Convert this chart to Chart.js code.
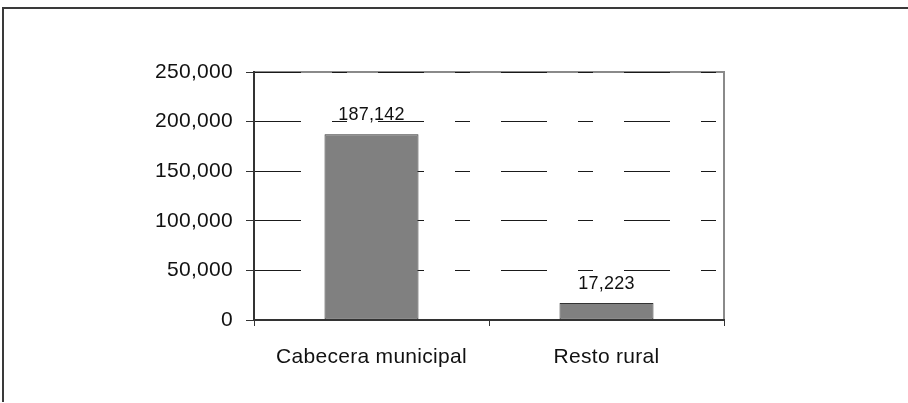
<!DOCTYPE html>
<html>
<head>
<meta charset="utf-8">
<script src="https://cdn.jsdelivr.net/npm/chart.js@4.4.1/dist/chart.umd.min.js"></script>
<style>
  html, body { margin: 0; padding: 0; background: #fff; }
  #wrap { width: 908px; height: 403px; }
</style>
</head>
<body>
<div id="wrap"><canvas id="chart" width="908" height="403"></canvas></div>
<script>
// ── Data ─────────────────────────────────────────
const categories = ['Cabecera municipal', 'Resto rural'];
const population = [187142, 17223];
const yTicks = [0, 50000, 100000, 150000, 200000, 250000];

const fmt = v => Number(v).toLocaleString('en-US');

// ── Frame + letter spacing ───────────────────────
const framePlugin = {
  id: 'frame',
  beforeLayout(chart) { chart.ctx.letterSpacing = '0.3px'; },
  beforeDraw(chart) {
    const ctx = chart.ctx;
    const a = chart.chartArea;
    ctx.letterSpacing = '0.3px';
    ctx.save();
    // outer box (only top + left visible)
    ctx.strokeStyle = '#3a3a3a';
    ctx.lineWidth = 2;
    ctx.beginPath();
    ctx.moveTo(3, 402);
    ctx.lineTo(3, 8);
    ctx.lineTo(908, 8);
    ctx.stroke();
    // plot frame top + right, grey
    ctx.strokeStyle = '#8a8a8a';
    ctx.lineWidth = 2;
    ctx.beginPath();
    ctx.moveTo(a.left, a.top);
    ctx.lineTo(a.right, a.top);
    ctx.lineTo(a.right, a.bottom);
    ctx.stroke();
    ctx.restore();
  }
};

// ── Value labels above bars ──────────────────────
const labelPlugin = {
  id: 'valueLabels',
  afterDatasetsDraw(chart) {
    const ctx = chart.ctx;
    const meta = chart.getDatasetMeta(0);
    ctx.save();
    ctx.letterSpacing = '0.2px';
    ctx.font = '18px "Liberation Sans", Arial, sans-serif';
    ctx.fillStyle = '#111';
    ctx.textAlign = 'center';
    ctx.textBaseline = 'alphabetic';
    meta.data.forEach((bar, i) => {
      ctx.fillText(fmt(population[i]), bar.x, bar.y - 14);
    });
    ctx.restore();
  }
};

new Chart(document.getElementById('chart'), {
  type: 'bar',
  data: {
    labels: categories,
    datasets: [{
      data: population,
      backgroundColor: '#808080',
      borderColor: '#333',
      borderWidth: 1,
      borderSkipped: false,
      barPercentage: 0.4,
      categoryPercentage: 1
    }]
  },
  options: {
    responsive: false,
    animation: false,
    devicePixelRatio: 1,
    layout: { padding: { left: 0, right: 184, top: 72, bottom: 0 } },
    plugins: { legend: { display: false }, tooltip: { enabled: false } },
    scales: {
      x: {
        afterFit: s => { s.height = 83; },
        grid: {
          offset: true,
          drawOnChartArea: false,
          drawTicks: true,
          tickLength: 6,
          tickColor: '#333',
          tickWidth: 1
        },
        border: { color: '#333', width: 2 },
        ticks: {
          padding: 19,
          color: '#111',
          font: { family: '"Liberation Sans", Arial, sans-serif', size: 21 }
        }
      },
      y: {
        min: 0,
        max: 250000,
        afterFit: s => { s.width = 254; },
        afterBuildTicks: s => { s.ticks = yTicks.map(v => ({ value: v })); },
        grid: {
          color: '#1a1a1a',
          lineWidth: 1,
          drawTicks: true,
          tickLength: 8,
          tickColor: '#333',
          tickWidth: 1,
          tickBorderDash: []
        },
        border: { color: '#333', width: 2, dash: [46, 31, 15, 31], dashOffset: 0 },
        ticks: {
          padding: 13,
          color: '#111',
          font: { family: '"Liberation Sans", Arial, sans-serif', size: 21 },
          callback: v => fmt(v)
        }
      }
    }
  },
  plugins: [framePlugin, labelPlugin]
});
</script>
</body>
</html>
